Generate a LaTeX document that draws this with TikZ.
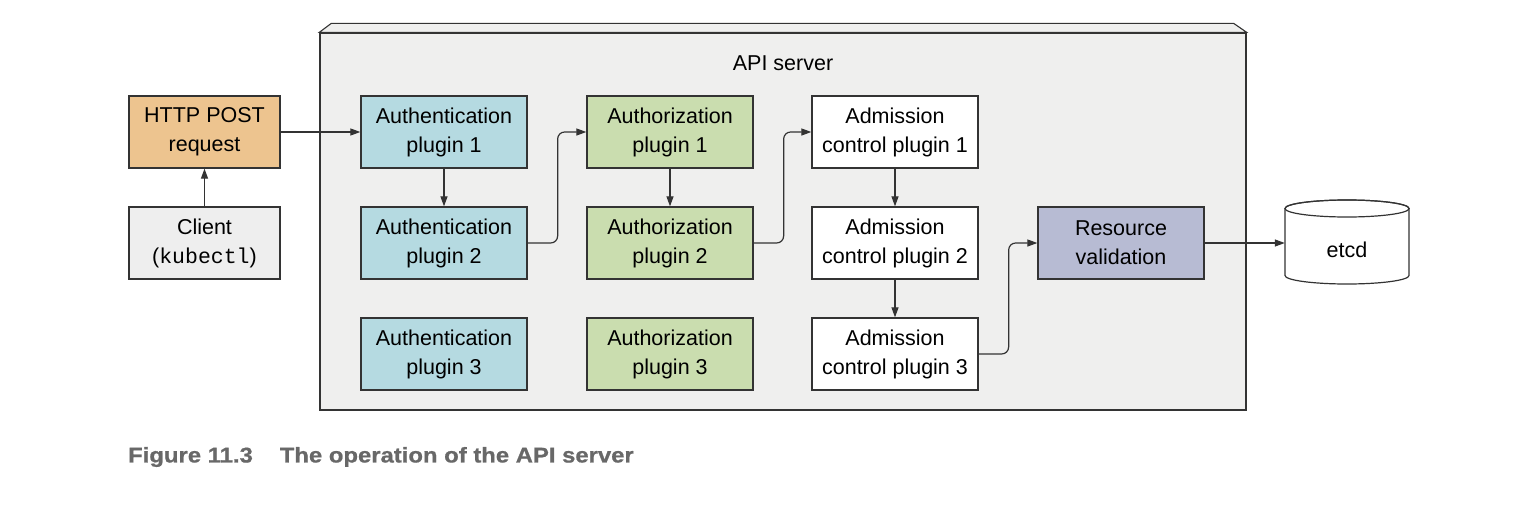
\documentclass[tikz,border=0pt]{standalone}
\usepackage{fontspec}
\setmainfont{Liberation Sans}
\setmonofont{Liberation Mono}
\newfontfamily\capfont{Liberation Sans Bold}[FakeStretch=1.12,FakeBold=0.8]
\usetikzlibrary{arrows.meta,calc}
\definecolor{linec}{HTML}{333333}
\definecolor{httpc}{HTML}{EDC48F}
\definecolor{clientc}{HTML}{EEEEEE}
\definecolor{authc}{HTML}{B5DAE1}
\definecolor{authzc}{HTML}{CADDAF}
\definecolor{resc}{HTML}{B7BBD3}
\definecolor{apic}{HTML}{EFEFEE}
\definecolor{capc}{HTML}{686868}
\tikzset{
  box/.style={draw=linec, line width=1.3pt, rectangle, minimum width=166pt, minimum height=72pt,
    align=center, inner sep=0pt, font=\fontsize{21.5}{29}\selectfont},
  conn/.style={draw=linec, line width=1.2pt, -{Triangle[length=10pt,width=7pt]}},
  txt/.style={font=\fontsize{21.5}{29}\selectfont, inner sep=0pt}
}
\begin{document}
\begin{tikzpicture}[x=1pt,y=-1pt]
\useasboundingbox[fill=white] (0,0) rectangle (1540,506);
% API server box
\node[draw=linec, line width=1.3pt, fill=apic, minimum width=926pt, minimum height=377pt, inner sep=0pt] (api) at (783,221.5) {};
\draw[draw=linec, line width=1.1pt, fill=apic] (api.north west) -- ++(12,-9) -- ($(api.north east)+(-13,-9)$) -- (api.north east) -- cycle;
\node[txt] (apilabel) at (783,63) {API server};
% left nodes
\node[box, fill=httpc, minimum width=151pt] (http) at (204.5,132) {HTTP POST\\request};
\node[box, fill=clientc, minimum width=151pt] (client) at (204.5,243) {Client\\(\texttt{kubectl})};
% authentication
\node[box, fill=authc] (a1) at (444,132) {Authentication\\plugin 1};
\node[box, fill=authc] (a2) at (444,243) {Authentication\\plugin 2};
\node[box, fill=authc] (a3) at (444,354) {Authentication\\plugin 3};
% authorization
\node[box, fill=authzc] (z1) at (670,132) {Authorization\\plugin 1};
\node[box, fill=authzc] (z2) at (670,243) {Authorization\\plugin 2};
\node[box, fill=authzc] (z3) at (670,354) {Authorization\\plugin 3};
% admission
\node[box, fill=white] (m1) at (895,132) {Admission\\control plugin 1};
\node[box, fill=white] (m2) at (895,243) {Admission\\control plugin 2};
\node[box, fill=white] (m3) at (895,354) {Admission\\control plugin 3};
% resource validation
\node[box, fill=resc] (rv) at (1121,243) {Resource\\validation};
% etcd cylinder
\draw[draw=linec, line width=1.2pt, fill=white] (1285,208.5) -- (1285,275.5)
  arc[start angle=180, end angle=0, x radius=62, y radius=8.5] -- (1409,208.5)
  arc[start angle=0, end angle=-180, x radius=62, y radius=8.5] -- cycle;
\draw[draw=linec, line width=1.2pt] (1347,208.5) ellipse[x radius=62, y radius=8.5];
\node[txt, minimum width=124pt, minimum height=60pt] (etcd) at (1347,250) {etcd};
% connectors
\draw[conn] (client.north) -- (http.south);
\draw[conn] (http.east) -- (a1.west);
\draw[conn] (a1.south) -- (a2.north);
\draw[conn, rounded corners=7pt] (a2.east) -- ++(30,0) |- (z1.west);
\draw[conn] (z1.south) -- (z2.north);
\draw[conn, rounded corners=7pt] (z2.east) -- ++(30,0) |- (m1.west);
\draw[conn] (m1.south) -- (m2.north);
\draw[conn] (m2.south) -- (m3.north);
\draw[conn, rounded corners=7pt] (m3.east) -- ++(30,0) |- (rv.west);
\draw[conn] (rv.east) -- (rv.east -| etcd.west);
% caption
\node[anchor=west, inner sep=0pt, text=capc, font=\capfont\fontsize{21.3}{24}\selectfont] (cap) at (128,457) {Figure 11.3\hspace{27pt}The operation of the API server};
\end{tikzpicture}
\end{document}
